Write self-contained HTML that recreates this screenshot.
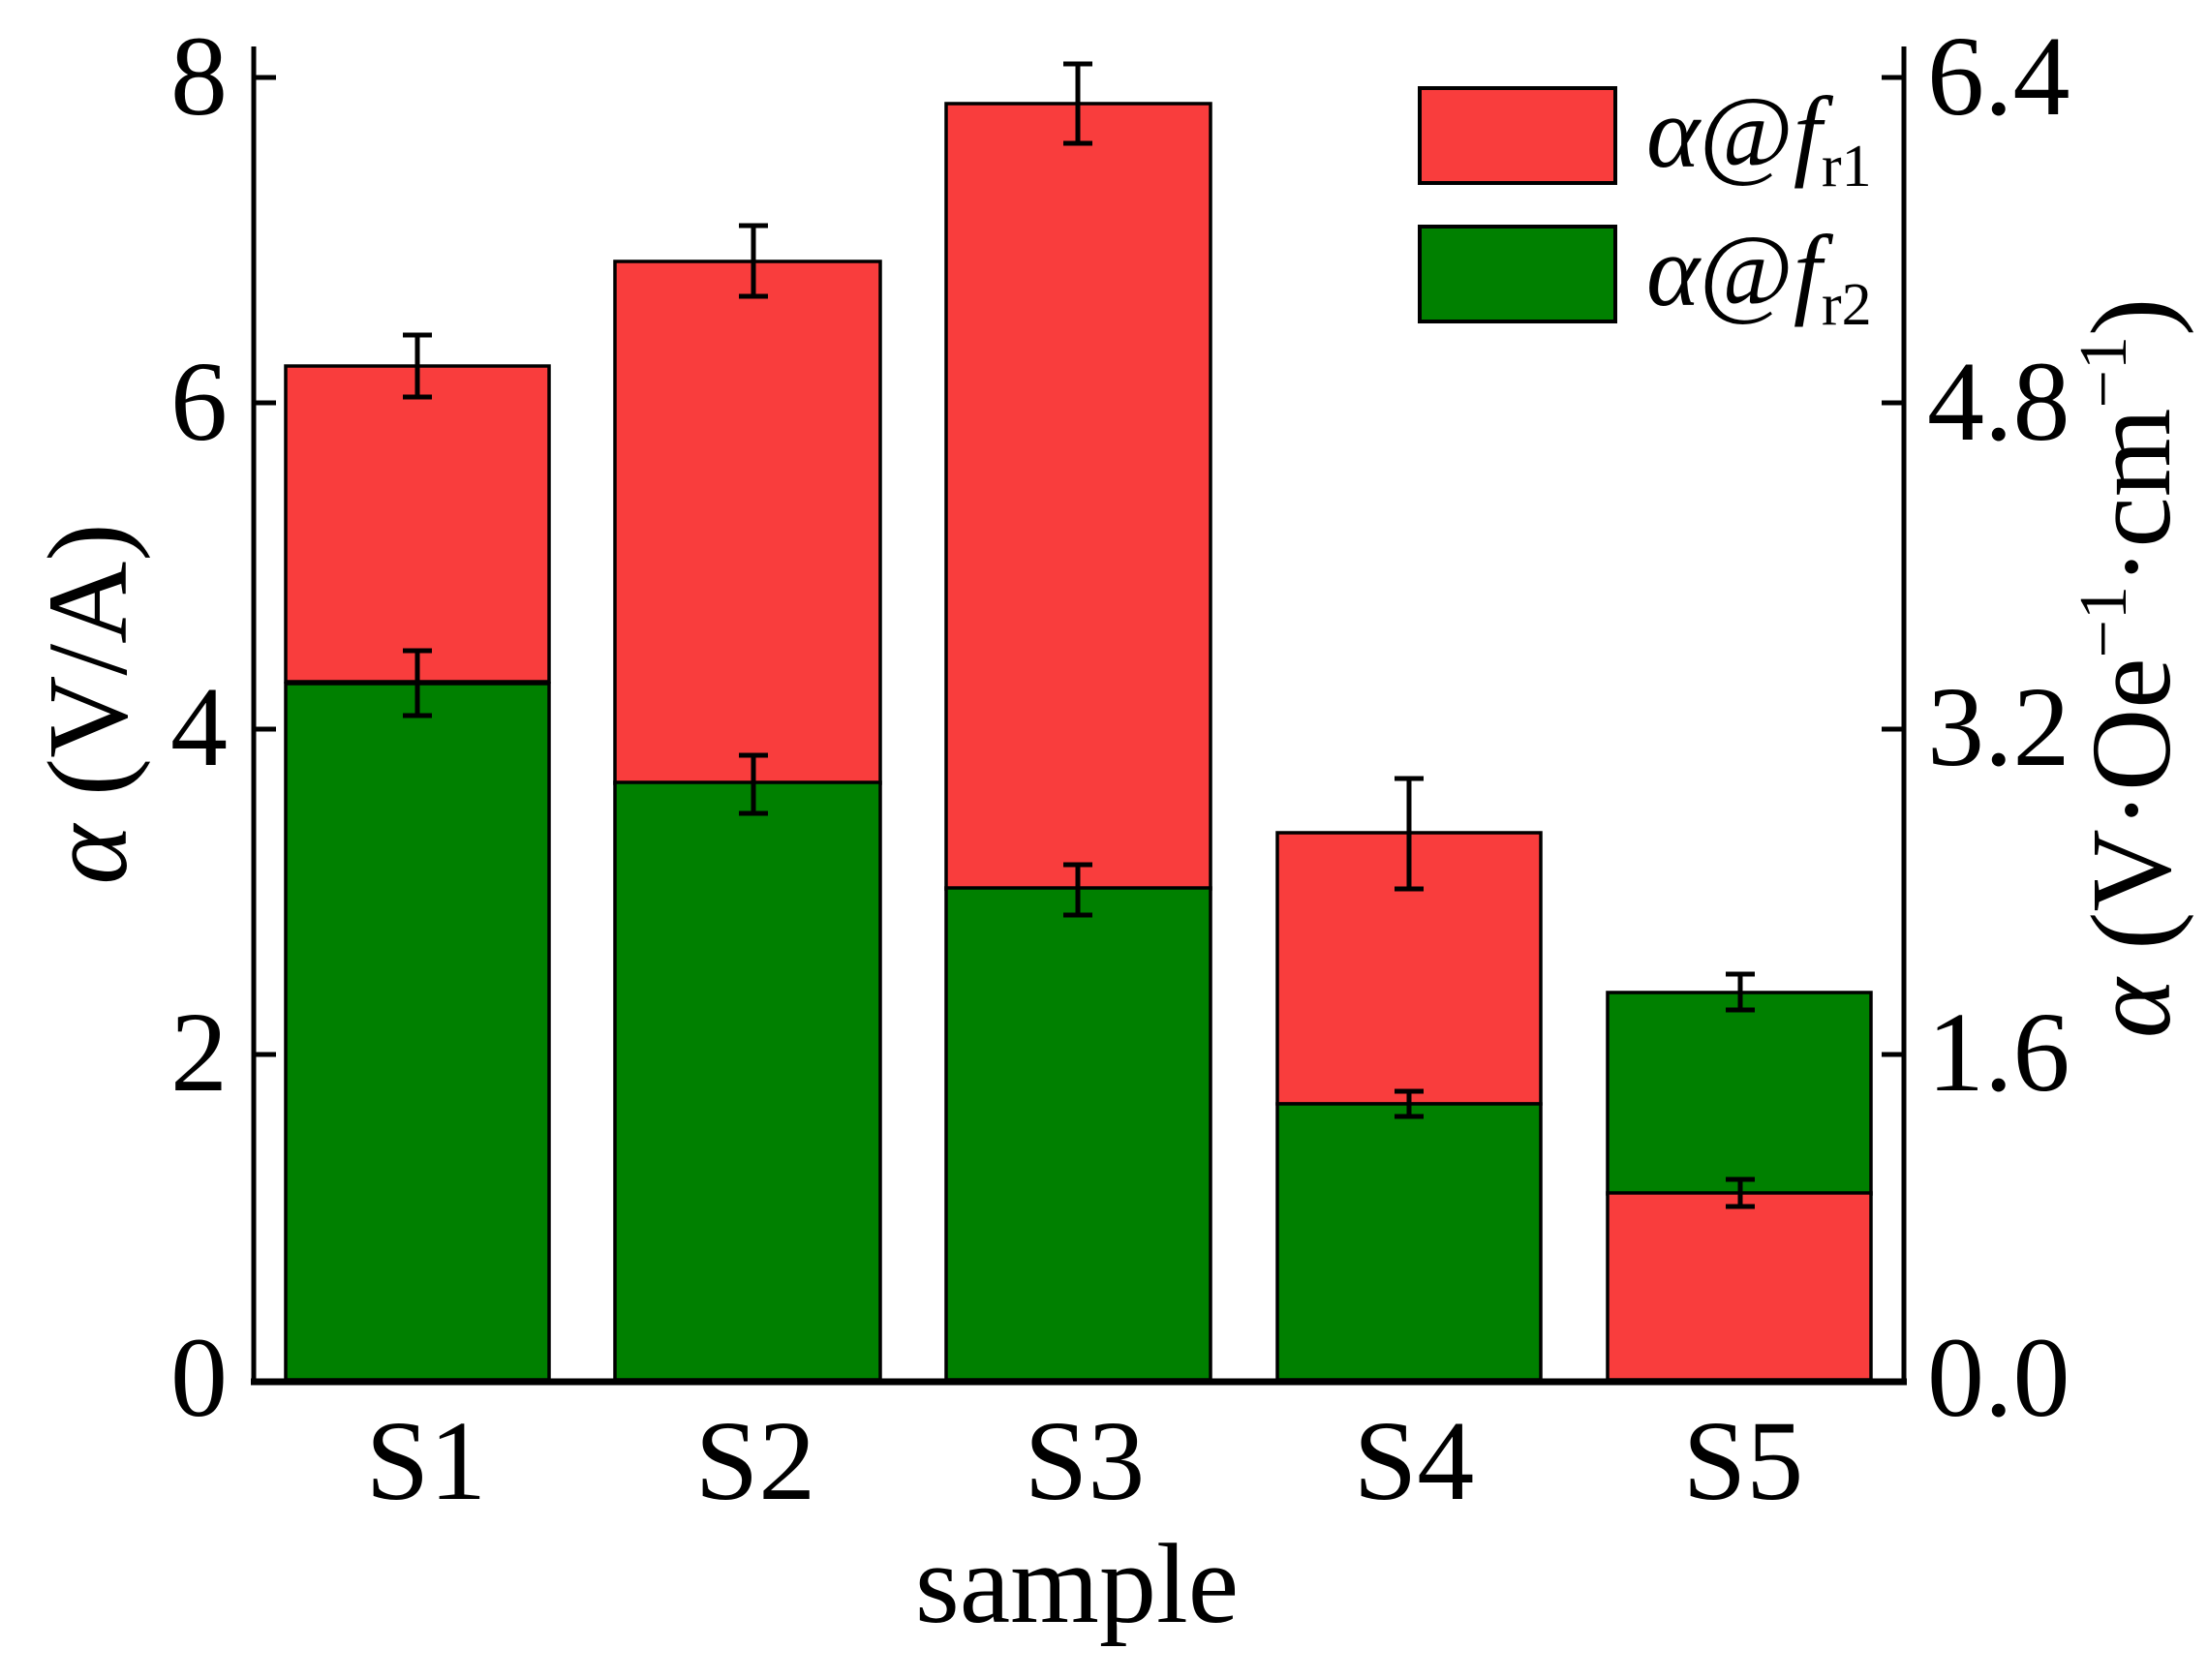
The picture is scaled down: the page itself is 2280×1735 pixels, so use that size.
<!DOCTYPE html>
<html><head><meta charset="utf-8"><style>body{margin:0;background:#fff}</style></head><body>
<svg width="2280" height="1730" xmlns="http://www.w3.org/2000/svg" font-family="Liberation Serif, serif">
<g stroke="#000" stroke-width="3.5">
<rect x="295" y="378" width="272" height="326" fill="#f93d3d"/>
<rect x="295" y="706" width="272" height="719" fill="#008000"/>
<rect x="635" y="270" width="274" height="539" fill="#f93d3d"/>
<rect x="635" y="808" width="274" height="617" fill="#008000"/>
<rect x="977" y="107" width="273" height="811" fill="#f93d3d"/>
<rect x="977" y="917" width="273" height="508" fill="#008000"/>
<rect x="1319" y="860" width="272" height="280" fill="#f93d3d"/>
<rect x="1319" y="1140" width="272" height="285" fill="#008000"/>
<rect x="1660" y="1025" width="272" height="208" fill="#008000"/>
<rect x="1660" y="1232" width="272" height="193" fill="#f93d3d"/>
</g>
<g stroke="#000" stroke-width="5" fill="none">
<path d="M431 346V410M416 346H446M416 410H446"/>
<path d="M431 672V739M416 672H446M416 739H446"/>
<path d="M778 233V306M763 233H793M763 306H793"/>
<path d="M778 780V840M763 780H793M763 840H793"/>
<path d="M1113 66V148M1098 66H1128M1098 148H1128"/>
<path d="M1113 893V945M1098 893H1128M1098 945H1128"/>
<path d="M1455 804V918M1440 804H1470M1440 918H1470"/>
<path d="M1455 1127V1153M1440 1127H1470M1440 1153H1470"/>
<path d="M1797 1006V1043M1782 1006H1812M1782 1043H1812"/>
<path d="M1797 1218V1246M1782 1218H1812M1782 1246H1812"/>
</g>
<g stroke="#000" fill="none">
<path d="M262 48V1427" stroke-width="5"/>
<path d="M1966 48V1427" stroke-width="5"/>
<path d="M259 1427H1969" stroke-width="7"/>
<path d="M262 80H285M262 416H285M262 753H285M262 1089H285M1966 80H1943M1966 416H1943M1966 753H1943M1966 1089H1943" stroke-width="5"/>
</g>
<g font-size="118" text-anchor="end">
<text x="235" y="118">8</text><text x="235" y="454">6</text><text x="235" y="790">4</text><text x="235" y="1126">2</text><text x="235" y="1462">0</text>
</g>
<g font-size="118">
<text x="1990" y="118">6.4</text><text x="1990" y="454">4.8</text><text x="1990" y="790">3.2</text><text x="1990" y="1126">1.6</text><text x="1990" y="1462">0.0</text>
</g>
<g font-size="118" text-anchor="middle">
<text x="440" y="1548">S1</text><text x="780" y="1548">S2</text><text x="1120" y="1548">S3</text><text x="1460" y="1548">S4</text><text x="1800" y="1548">S5</text>
<text x="1112" y="1675">sample</text>
</g>
<text transform="translate(130,727) rotate(-90)" font-size="118" text-anchor="middle"><tspan font-style="italic">α</tspan> (V/A)</text>
<text transform="translate(2240,690) rotate(-90)" font-size="118" text-anchor="middle"><tspan font-style="italic">α</tspan> (V·Oe<tspan font-size="70" dy="-45">−1</tspan><tspan dy="45">·cm</tspan><tspan font-size="70" dy="-45">−1</tspan><tspan dy="45">)</tspan></text>
<rect x="1466" y="91" width="202" height="98" fill="#f93d3d" stroke="#000" stroke-width="4"/>
<rect x="1466" y="234" width="202" height="98" fill="#008000" stroke="#000" stroke-width="4"/>
<g font-size="105">
<text x="1700" y="172"><tspan font-style="italic">α</tspan>@<tspan font-style="italic">f</tspan><tspan font-size="62" dy="20">r1</tspan></text>
<text x="1700" y="315"><tspan font-style="italic">α</tspan>@<tspan font-style="italic">f</tspan><tspan font-size="62" dy="20">r2</tspan></text>
</g>
</svg>
</body></html>
